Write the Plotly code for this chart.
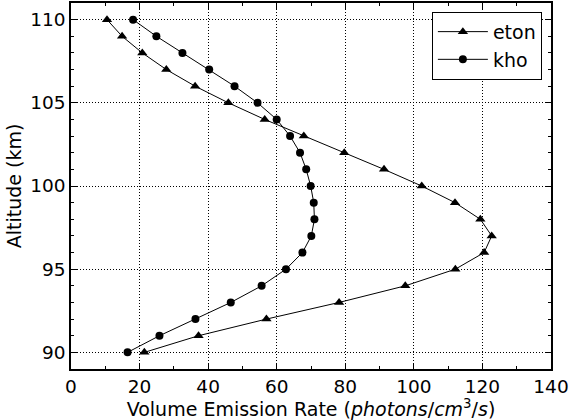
import plotly.graph_objects as go

# Altitude grid (km)
altitude = [110, 109, 108, 107, 106, 105, 104, 103, 102, 101, 100,
            99, 98, 97, 96, 95, 94, 93, 92, 91, 90]

# Volume emission rate profiles (photons/cm^3/s)
eton = [10.5, 14.9, 20.8, 27.8, 36.2, 45.9, 56.5, 67.9, 79.7, 91.3, 102.3,
        112.0, 119.4, 122.7, 120.5, 112.1, 97.5, 78.2, 57.0, 37.2, 21.4]
kho = [18.1, 24.9, 32.5, 40.3, 47.7, 54.4, 60.0, 63.9, 66.8, 68.6, 69.9,
       70.8, 71.0, 70.1, 67.5, 62.7, 55.6, 46.6, 36.3, 25.8, 16.5]

x_ticks = [0, 20, 40, 60, 80, 100, 120, 140]
y_ticks = [90, 95, 100, 105, 110]

FONT = "DejaVu Sans"

fig = go.Figure()
fig.add_trace(go.Scatter(
    x=eton, y=altitude, name="eton", mode="lines+markers",
    line=dict(color="black", width=1),
    marker=dict(symbol="triangle-up", size=9, color="black"),
))
fig.add_trace(go.Scatter(
    x=kho, y=altitude, name="kho", mode="lines+markers",
    line=dict(color="black", width=1),
    marker=dict(symbol="circle", size=8, color="black"),
))

axis_common = dict(
    showline=True, linecolor="black", linewidth=1.5, mirror="allticks",
    ticks="inside", ticklen=6, tickcolor="black", tickwidth=1,
    showgrid=True, gridcolor="black", gridwidth=1, griddash="1px,2px",
    zeroline=False,
    tickfont=dict(family=FONT, size=18.5, color="black"),
)

fig.update_xaxes(
    range=[0, 140], tickvals=x_ticks,
    minor=dict(dtick=10, ticks="inside", ticklen=3, tickcolor="black", showgrid=False),
    title=dict(
        text="Volume Emission Rate (<i>photons</i>/<i>cm</i><sup>3</sup>/<i>s</i>)",
        font=dict(family=FONT, size=19, color="black"), standoff=6,
    ),
    **axis_common,
)
fig.update_yaxes(
    range=[89, 111], tickvals=y_ticks,
    minor=dict(dtick=1, ticks="inside", ticklen=3, tickcolor="black", showgrid=False),
    title=dict(text="Altitude (km)", font=dict(family=FONT, size=19, color="black"), standoff=4),
    **axis_common,
)

fig.update_layout(
    width=572, height=420,
    margin=dict(l=71, r=21, t=1, b=51),
    paper_bgcolor="white", plot_bgcolor="white",
    font=dict(family=FONT, color="black"),
    legend=dict(
        x=0.981, y=0.976, xanchor="right", yanchor="top",
        bgcolor="white", bordercolor="black", borderwidth=1,
        font=dict(family=FONT, size=19, color="black"),
        itemwidth=50,
    ),
)

fig.write_html("out.html")
